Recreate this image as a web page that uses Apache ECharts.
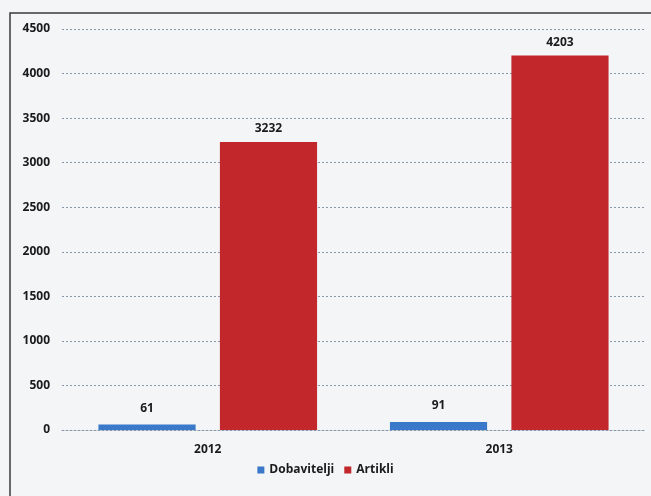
<!DOCTYPE html>
<html>
<head>
<meta charset="utf-8">
<script src="https://cdn.jsdelivr.net/npm/echarts@6/dist/echarts.min.js"></script>
<style>
  html, body { margin: 0; padding: 0; background: #f3f5f7; }
  #box { width: 651px; height: 496px; }
</style>
</head>
<body>
<div id="box"></div>
<script>
// podatki
var years = ["2012", "2013"];
var dobavitelji = [61, 91];
var artikli = [3232, 4203];
var yTicks = [0, 500, 1000, 1500, 2000, 2500, 3000, 3500, 4000, 4500];

var myChart = echarts.init(document.getElementById("box"));
var labelFont = { fontFamily: "Open Sans", fontWeight: "bold", fontSize: 12, color: "#1a1a1a" };
var gridLine = { color: "#8797aa", type: [2, 2], width: 1 };

myChart.setOption({
  backgroundColor: "#f3f5f7",
  animation: false,
  graphic: [
    {
      type: "rect",
      shape: { x: 10, y: 13, width: 660, height: 500 },
      style: { fill: "none", stroke: "#3a3a3a", lineWidth: 1.5 },
    },
  ],
  grid: { left: 62, right: 6, top: 29, bottom: 66 },
  legend: {
    bottom: 15,
    left: "center",
    itemWidth: 7,
    itemHeight: 7,
    itemGap: 10,
    icon: "rect",
    textStyle: { fontFamily: "Open Sans", fontWeight: "bold", fontSize: 12, color: "#1a1a1a" },
    data: ["Dobavitelji", "Artikli"],
  },
  xAxis: {
    type: "category",
    data: years,
    axisTick: { show: false },
    axisLine: { lineStyle: gridLine },
    axisLabel: Object.assign({ margin: 14 }, labelFont),
  },
  yAxis: {
    type: "value",
    min: yTicks[0],
    max: yTicks[yTicks.length - 1],
    interval: 500,
    axisLine: { show: false },
    axisTick: { show: false },
    axisLabel: Object.assign({ margin: 12, align: "right", formatter: function (v) { return String(v); } }, labelFont),
    splitLine: { lineStyle: gridLine },
  },
  series: [
    {
      name: "Dobavitelji",
      type: "bar",
      data: dobavitelji,
      barGap: "25%",
      barCategoryGap: "25%",
      itemStyle: { color: "#3a79c9" },
      label: Object.assign({ show: true, position: "top", distance: 10 }, labelFont),
    },
    {
      name: "Artikli",
      type: "bar",
      data: artikli,
      barGap: "25%",
      barCategoryGap: "25%",
      itemStyle: { color: "#c2272b" },
      label: Object.assign({ show: true, position: "top", distance: 7 }, labelFont),
    },
  ],
});
</script>
</body>
</html>
